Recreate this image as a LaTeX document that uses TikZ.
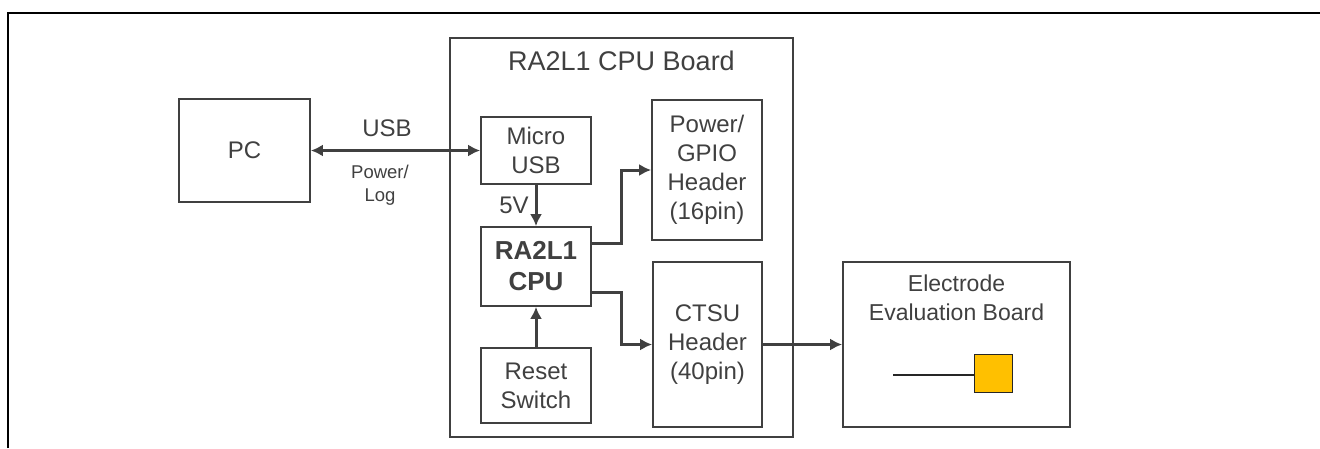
\documentclass[tikz,border=0pt]{standalone}
\usepackage{fontspec}
\setmainfont{Liberation Sans}
\usetikzlibrary{arrows.meta,positioning,calc}
\definecolor{ink}{HTML}{404040}
\definecolor{padfill}{HTML}{FFC000}
\tikzset{
  blk/.style={draw=ink, line width=1.7pt, rectangle, inner sep=0pt, align=center, text=ink,
     font=\fontsize{24}{29}\selectfont},
  lbl/.style={text=ink, inner sep=0pt, align=center, font=\fontsize{24}{29}\selectfont},
  tip/.tip={Latex[length=12pt,width=12pt]},
  conn/.style={draw=ink, line width=3pt, -tip},
}
\begin{document}
\begin{tikzpicture}[x=1pt,y=-1pt]
\useasboundingbox (0,0) rectangle (1320,448);
% outer frame
\draw[black, line width=2pt] (7.5,448) -- (7.5,13) -- (1320,13);
% boxes
\node[blk, minimum width=131pt, minimum height=103pt] (pc) at (244.5,150.5) {PC};
\node[blk, minimum width=343pt, minimum height=399pt] (board) at (621.5,237.5) {};
\node[lbl, font=\fontsize{27}{32}\selectfont] (title) at (621.5,61) {RA2L1 CPU Board};
\node[blk, minimum width=110pt, minimum height=67pt] (usb) at (536,150.5) {Micro\\USB};
\node[blk, minimum width=110pt, minimum height=79pt, font=\fontsize{26}{31}\selectfont\bfseries] (cpu) at (536,266.5) {RA2L1\\CPU};
\node[blk, minimum width=110pt, minimum height=75pt] (reset) at (536,385.5) {Reset\\Switch};
\node[blk, minimum width=110pt, minimum height=140pt] (pgh) at (707,170) {Power/\\GPIO\\Header\\(16pin)};
\node[blk, minimum width=109pt, minimum height=165pt] (ctsu) at (707.5,344.5) {CTSU\\Header\\(40pin)};
\node[blk, minimum width=227pt, minimum height=165pt] (elec) at (956.5,344.5) {};
\node[lbl, font=\fontsize{23}{29}\selectfont] (eltitle) at (956.5,298) {Electrode\\Evaluation Board};
\node[draw=black!85, line width=1.5pt, fill=padfill, minimum size=38pt, inner sep=0pt] (pad) at (993.5,373.5) {};
\coordinate (wire) at (893,375);
\draw[black!85, line width=1.5pt] (wire) -- (pad.west |- wire);
% labels
\node[lbl] (usblbl) at (387,128) {USB};
\node[lbl, font=\fontsize{18.5}{23}\selectfont] (pwrlog) at (380,185.5) {Power/\\Log};
\node[lbl] (fivev) at (514,205) {5V};
% connectors
\draw[conn, tip-tip] (pc.east) -- (usb.west);
\draw[conn] (usb.south) -- (cpu.north);
\draw[conn] (reset.north) -- (cpu.south);
\draw[conn] ($(cpu.east)+(0,-23.5)$) -- ++(30,0) |- (pgh.west);
\draw[conn] ($(cpu.east)+(0,25.5)$) -- ++(30,0) |- (ctsu.west);
\draw[conn] (ctsu.east) -- (elec.west);
\end{tikzpicture}
\end{document}
